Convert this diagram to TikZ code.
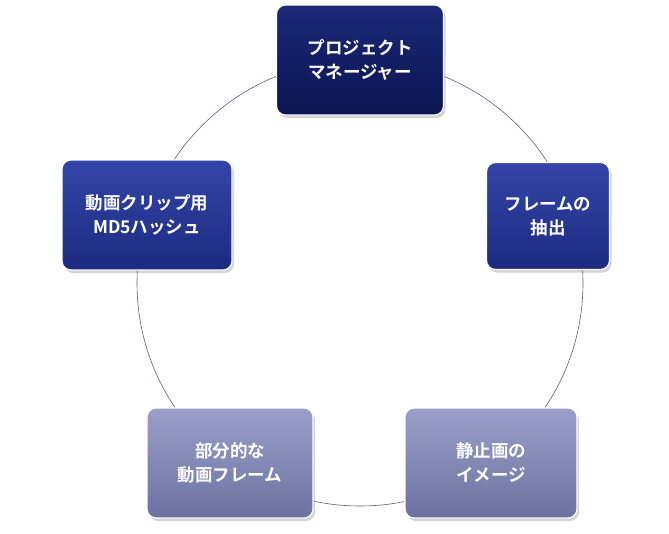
\documentclass[tikz,border=0pt]{standalone}
\usepackage{fontspec}
\setmainfont{Noto Sans CJK JP}[BoldFont={Noto Sans CJK JP Bold}]
\usetikzlibrary{shadows,positioning}
\definecolor{navyA}{HTML}{1B2A78}
\definecolor{navyB}{HTML}{0B1450}
\definecolor{blueA}{HTML}{3346A8}
\definecolor{blueB}{HTML}{1C2A80}
\definecolor{paleA}{HTML}{9AA0C8}
\definecolor{paleB}{HTML}{6B72A0}
\tikzset{
  box/.style={rectangle, rounded corners=9pt, draw=white, line width=1.2pt,
    align=center, text=white, font=\bfseries\fontsize{17.5}{24}\selectfont,
    drop shadow={shadow xshift=2pt, shadow yshift=-3pt, opacity=0.35}},
  dark/.style={box, top color=navyA, bottom color=navyB},
  mid/.style={box, top color=blueA, bottom color=blueB},
  pale/.style={box, top color=paleA, bottom color=paleB}
}
\begin{document}
\begin{tikzpicture}[x=1pt,y=-1pt]
\useasboundingbox (0,0) rectangle (669,533);

\coordinate (ctr) at (360,283);
\draw[draw=gray!70!blue!60!black!80, line width=0.6pt] (ctr) circle[radius=223];

\node[dark, minimum width=167, minimum height=110] (pm)    at (360,60)  {プロジェクト\\マネージャー};
\node[mid,  minimum width=123, minimum height=107] (frame) at (548,216) {フレームの\\抽出};
\node[pale, minimum width=172, minimum height=110] (still) at (491,463) {静止画の\\イメージ};
\node[pale, minimum width=166, minimum height=110] (part)  at (230,463) {部分的な\\動画フレーム};
\node[mid,  minimum width=170, minimum height=110] (md5)   at (147,215) {動画クリップ用\\MD5ハッシュ};
\end{tikzpicture}
\end{document}
